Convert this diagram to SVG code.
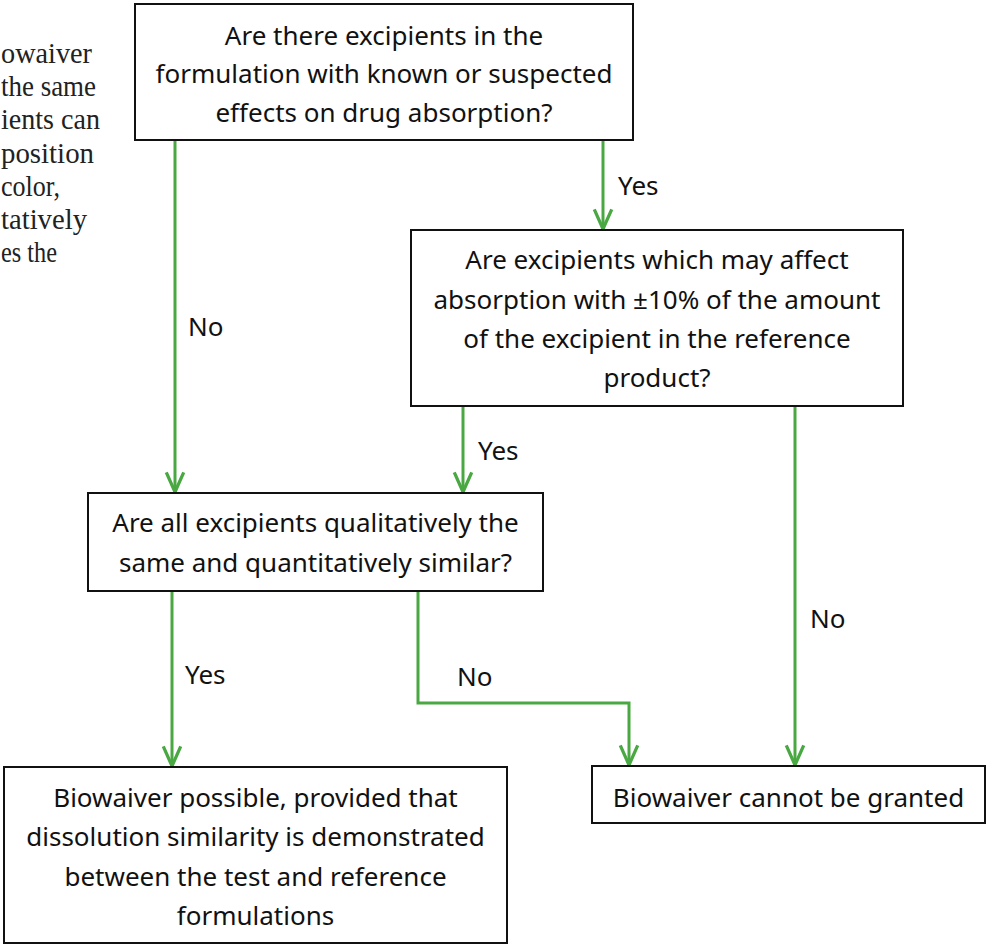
<svg xmlns="http://www.w3.org/2000/svg" width="986" height="944" viewBox="0 0 986 944">
<style>
.box{fill:#fff;stroke:#111;stroke-width:2}
.t{font-family:"Noto Sans","Open Sans",sans-serif;font-size:26px;fill:#111;text-anchor:middle}
.lbl{font-family:"Noto Sans","Open Sans",sans-serif;font-size:26px;fill:#111}
.side{font-family:"Liberation Serif","Times New Roman",serif;font-size:29px;fill:#222}
.c{fill:none;stroke:#4aa843;stroke-width:3;marker-end:url(#ah)}
</style>
<defs>
<marker id="ah" markerUnits="userSpaceOnUse" markerWidth="24" markerHeight="24" viewBox="-20 -10 22 20" refX="0" refY="0" orient="auto">
<path d="M-18,-8 L0,0 L-18,8" fill="none" stroke="#4aa843" stroke-width="3"/>
</marker>
</defs>
<rect width="986" height="944" fill="#fff"/>
<g id="sidetext">
<text class="side" x="1" y="63" textLength="91" lengthAdjust="spacingAndGlyphs">owaiver</text>
<text class="side" x="1" y="96" textLength="95" lengthAdjust="spacingAndGlyphs">the same</text>
<text class="side" x="1" y="129" textLength="99" lengthAdjust="spacingAndGlyphs">ients can</text>
<text class="side" x="1" y="163" textLength="93" lengthAdjust="spacingAndGlyphs">position</text>
<text class="side" x="1" y="196" textLength="59" lengthAdjust="spacingAndGlyphs">color,</text>
<text class="side" x="1" y="229" textLength="86" lengthAdjust="spacingAndGlyphs">tatively</text>
<text class="side" x="1" y="262" textLength="56" lengthAdjust="spacingAndGlyphs">es the</text>
</g>
<g id="connectors">
<path class="c" d="M175,141 V492"/>
<path class="c" d="M603,141 V229"/>
<path class="c" d="M463,407 V492"/>
<path class="c" d="M795,407 V765"/>
<path class="c" d="M172,592 V766"/>
<path class="c" d="M418,592 V703 H629 V765"/>
<text class="lbl" x="188" y="336">No</text>
<text class="lbl" x="618" y="195">Yes</text>
<text class="lbl" x="478" y="460">Yes</text>
<text class="lbl" x="810" y="628">No</text>
<text class="lbl" x="185" y="684">Yes</text>
<text class="lbl" x="457" y="686">No</text>
</g>
<g id="q1">
<rect class="box" x="135" y="4" width="498" height="136"/>
<text class="t" x="384" y="45">Are there excipients in the</text>
<text class="t" x="384" y="83">formulation with known or suspected</text>
<text class="t" x="384" y="122">effects on drug absorption?</text>
</g>
<g id="q2">
<rect class="box" x="411" y="230" width="492" height="176"/>
<text class="t" x="657" y="269">Are excipients which may affect</text>
<text class="t" x="657" y="309">absorption with ±10% of the amount</text>
<text class="t" x="657" y="348">of the excipient in the reference</text>
<text class="t" x="657" y="387">product?</text>
</g>
<g id="q3">
<rect class="box" x="88" y="493" width="455" height="98"/>
<text class="t" x="315.5" y="532">Are all excipients qualitatively the</text>
<text class="t" x="315.5" y="572">same and quantitatively similar?</text>
</g>
<g id="possible">
<rect class="box" x="4" y="767" width="503" height="176"/>
<text class="t" x="255.5" y="807">Biowaiver possible, provided that</text>
<text class="t" x="255.5" y="846">dissolution similarity is demonstrated</text>
<text class="t" x="255.5" y="886">between the test and reference</text>
<text class="t" x="255.5" y="925">formulations</text>
</g>
<g id="denied">
<rect class="box" x="592" y="766" width="393" height="57"/>
<text class="t" x="788.5" y="807">Biowaiver cannot be granted</text>
</g>
</svg>
